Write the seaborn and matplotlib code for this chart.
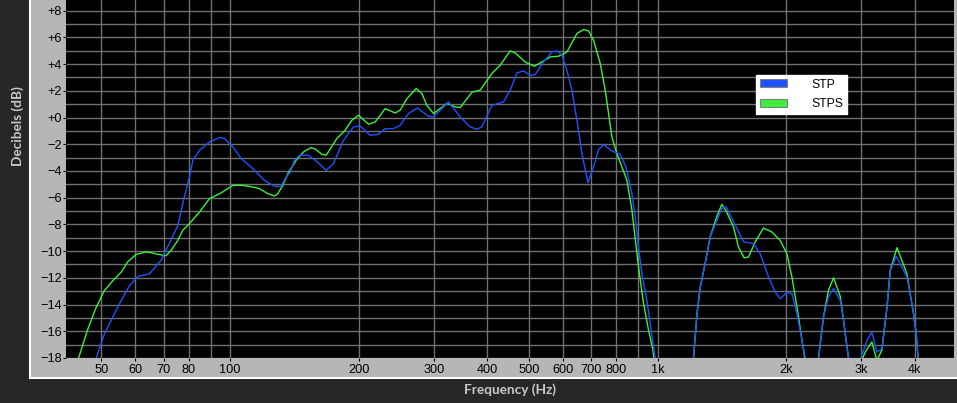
import pandas as pd
import seaborn as sns
import matplotlib.pyplot as plt
from matplotlib.patches import Rectangle, Patch
from matplotlib.lines import Line2D
from matplotlib.ticker import FixedLocator

# STP (blue)
stp_freq = [47.5, 48.6, 50.8, 53.2, 55.6, 58.1, 60.8, 64.7, 68.9, 72.1, 75.4, 78.2, 80.3, 81.8, 84.8,
            89.5, 94.4, 97.0, 101.5, 106.1, 113.0, 120.3, 127.0, 131.6, 135.2, 138.2, 141.4, 145.8,
            152.5, 159.6, 167.8, 174.5, 184.2, 194.4, 201.5, 212.7, 222.4, 230.6, 241.1, 249.9,
            261.4, 274.4, 291.1, 299.1, 324.3, 345.4, 364.5, 377.8, 388.2, 409.7, 436.2, 452.2,
            468.8, 485.8, 503.6, 517.4, 541.1, 566.2, 581.6, 597.5, 613.8, 630.6, 647.8, 665.6,
            687.4, 708.5, 727.8, 747.6, 782.1, 818.0, 843.4, 871.2, 886.8, 902.7, 919.4, 944.6,
            961.3, 984.0, 1000, 1100, 1205,
            1214, 1237, 1259, 1293, 1328, 1377, 1414, 1448, 1506, 1590, 1678, 1739, 1819, 1886,
            1937, 2008, 2063, 2120, 2178, 2217, 2300,
            2381, 2446, 2513, 2582, 2677, 2725, 2776, 2799, 2900,
            2992, 3090, 3174, 3261, 3350, 3443, 3504, 3619, 3833, 3902, 3972, 4030, 4068, 4300]
stp_db = [-19.0, -18.0, -16.2, -14.9, -13.7, -12.6, -11.9, -11.7, -10.7, -9.4, -8.1, -5.9, -4.45, -3.2, -2.45,
          -1.83, -1.5, -1.57, -2.2, -3.07, -3.82, -4.7, -5.15, -5.15, -4.45, -4.1, -3.2, -2.8,
          -2.82, -3.3, -3.95, -3.45, -1.7, -0.7, -0.63, -1.33, -1.25, -0.83, -0.83, -0.58,
          0.3, 0.72, 0.1, 0.05, 1.17, 0.05, -0.7, -0.88, -0.7, 0.92, 1.17, 2.05,
          3.34, 3.49, 3.15, 3.22, 4.16, 4.91, 4.99, 4.67, 3.54, 2.05, -0.2, -2.7,
          -4.87, -3.7, -2.4, -2.02, -2.5, -2.75, -3.7, -5.7, -7.45, -9.7, -11.7, -13.7,
          -15.4, -17.7, -19.0, -40.0, -19.0,
          -18.0, -14.7, -12.7, -10.9, -8.94, -7.7, -6.8, -6.68, -7.8, -9.3, -9.44, -10.2, -11.94, -13.07,
          -13.56, -13.1, -13.18, -14.7, -16.7, -18.0, -30.0,
          -18.0, -14.9, -13.4, -12.8, -13.7, -15.2, -17.2, -18.0, -30.0,
          -18.0, -16.7, -16.06, -17.56, -17.3, -14.2, -11.44, -10.4, -11.94, -13.2, -14.7, -16.2, -17.9, -35.0]

# STPS (green)
stps_freq = [43.5, 44.3, 46.5, 48.6, 50.8, 53.2, 55.6, 57.6, 60.3, 63.6, 65.9, 67.7, 70.8, 72.8, 75.4,
             77.5, 80.3, 84.8, 89.5, 95.3, 97.9, 101.5, 106.1, 113.0, 117.1, 122.5, 127.0, 129.3,
             132.8, 136.5, 142.7, 148.4, 154.5, 158.1, 163.9, 167.8, 177.7, 185.8, 192.7, 199.7,
             210.8, 218.5, 230.6, 243.3, 249.9, 259.2, 272.5, 281.0, 288.6, 299.1, 321.5, 336.3,
             345.4, 367.9, 384.7, 409.7, 428.5, 452.2, 464.5, 490.2, 514.5, 536.5, 561.0, 586.6,
             613.8, 647.8, 671.3, 689.6, 708.5, 734.6, 754.5, 768.0, 782.1, 803.5, 825.6, 848.1,
             871.0, 890.0, 902.7, 927.3, 952.6, 975.5, 990, 1100, 1205,
             1214, 1237, 1259, 1293, 1328, 1377, 1414, 1448, 1506, 1547, 1595, 1633, 1693, 1770,
             1852, 1937, 2008, 2063, 2120, 2178, 2210, 2300,
             2381, 2446, 2513, 2582, 2677, 2725, 2776, 2799, 2900,
             3020, 3062, 3174, 3261, 3350, 3443, 3504, 3634, 3833, 3902, 3972, 4030, 4068, 4300]
stps_db = [-19.0, -17.9, -15.8, -14.2, -12.95, -12.2, -11.57, -10.8, -10.24, -10.06, -10.14, -10.24, -10.34, -9.94, -9.2,
           -8.44, -7.94, -7.07, -6.07, -5.64, -5.4, -5.07, -5.07, -5.2, -5.32, -5.7, -5.87, -5.7,
           -5.07, -4.2, -3.2, -2.58, -2.25, -2.35, -2.75, -2.82, -1.57, -0.95, -0.2, 0.17,
           -0.5, -0.33, 0.67, 0.34, 0.55, 1.42, 2.17, 1.8, 0.92, 0.3, 1.05, 0.8,
           0.75, 1.9, 2.05, 3.3, 3.92, 4.99, 4.84, 4.16, 3.84, 4.16, 4.54, 4.59,
           4.91, 6.29, 6.59, 6.49, 5.79, 4.04, 2.05, 0.3, -1.45, -2.7, -3.7, -4.7,
           -6.9, -9.5, -11.2, -13.9, -15.9, -17.4, -19.0, -40.0, -19.0,
           -18.0, -14.7, -12.7, -10.9, -8.94, -7.4, -6.5, -7.0, -8.2, -9.7, -10.5, -10.44, -9.3, -8.27,
           -8.57, -9.2, -10.2, -11.94, -14.2, -16.7, -18.0, -30.0,
           -18.0, -14.9, -12.9, -12.0, -13.4, -15.2, -17.2, -18.0, -30.0,
           -18.0, -17.56, -16.8, -18.2, -17.4, -14.2, -11.44, -9.74, -11.7, -13.2, -14.7, -16.2, -17.9, -35.0]

x_ticks = [50, 60, 70, 80, 100, 200, 300, 400, 500, 600, 700, 800, 1000, 2000, 3000, 4000]
x_labels = ["50", "60", "70", "80", "100", "200", "300", "400", "500", "600", "700", "800",
            "1k", "2k", "3k", "4k"]
y_ticks = list(range(-18, 9, 2))
y_labels = ["\u2212" + str(-v) if v < 0 else "+" + str(v) for v in y_ticks]

colors = {"STP": "#1e52ff", "STPS": "#3cf03c"}

df = pd.concat([
    pd.DataFrame({"Frequency": stp_freq, "dB": stp_db, "Series": "STP"}),
    pd.DataFrame({"Frequency": stps_freq, "dB": stps_db, "Series": "STPS"}),
])

W, H = 957, 403
fig = plt.figure(figsize=(W / 100, H / 100), dpi=100, facecolor="#272727")

# grey frame around the plot
fig.patches.append(Rectangle((30 / W, 1 - 378 / H), (W - 30) / W, 378 / H, transform=fig.transFigure,
                             facecolor="#b6b6b6", edgecolor="none", zorder=-1))
fig.add_artist(Line2D([30 / W, 30 / W], [1 - 378 / H, 1], color="white", lw=1.5))
fig.add_artist(Line2D([30 / W, 1], [1 - 378 / H, 1 - 378 / H], color="white", lw=1.5))

ax = fig.add_axes([66 / W, 1 - 358 / H, (954 - 66) / W, 358 / H])
ax.set_facecolor("black")
ax.set_xscale("log")

sns.lineplot(data=df, x="Frequency", y="dB", hue="Series", hue_order=["STPS", "STP"], palette=colors,
             estimator=None, sort=False, lw=1.0, legend=False, ax=ax)

ax.set_xlim(41.3, 4940)
ax.set_ylim(-18, 8.8)
ax.xaxis.set_major_locator(FixedLocator(x_ticks))
ax.xaxis.set_minor_locator(FixedLocator([90, 900]))
ax.set_xticklabels(x_labels)
ax.yaxis.set_major_locator(FixedLocator(y_ticks))
ax.yaxis.set_minor_locator(FixedLocator(range(-17, 9, 2)))
ax.set_yticklabels(y_labels)
ax.grid(which="both", color="#707070", lw=1)
ax.set_axisbelow(True)
ax.tick_params(which="minor", length=0)
ax.tick_params(axis="y", which="major", length=2.2, pad=0.8, color="black", labelsize=9.2, labelcolor="black")
ax.tick_params(axis="x", which="major", length=2.2, pad=2.3, color="black", labelsize=9.2, labelcolor="black")
for lab in ax.get_xticklabels() + ax.get_yticklabels():
    lab.set_fontfamily("Liberation Sans")
for s in ax.spines.values():
    s.set_visible(False)
ax.set_xlabel("")
ax.set_ylabel("")

fig.text(17.5 / W, 1 - 126 / H, "Decibels (dB)", rotation=90, ha="center", va="center",
         color="#c8c8c8", fontsize=9.8, fontweight="bold", fontfamily="Lato")
fig.text(509.5 / W, 1 - 390 / H, "Frequency (Hz)", ha="center", va="center",
         color="#c8c8c8", fontsize=9.8, fontweight="bold", fontfamily="Lato")

handles = [Patch(facecolor=colors["STP"], edgecolor="#808080", lw=0.8),
           Patch(facecolor=colors["STPS"], edgecolor="#808080", lw=0.8)]
leg = ax.legend(handles, ["STP", "STPS"], loc="upper left", bbox_to_anchor=(756 / W, 1 - 75 / H),
                bbox_transform=fig.transFigure, borderaxespad=0, borderpad=0.3, handlelength=2.2,
                handleheight=0.65, handletextpad=2.0, labelspacing=0.6, fancybox=False, framealpha=1,
                facecolor="white", edgecolor="white", prop={"family": "Liberation Sans", "size": 8.8})

plt.savefig("out.png", dpi=100, facecolor=fig.get_facecolor())
